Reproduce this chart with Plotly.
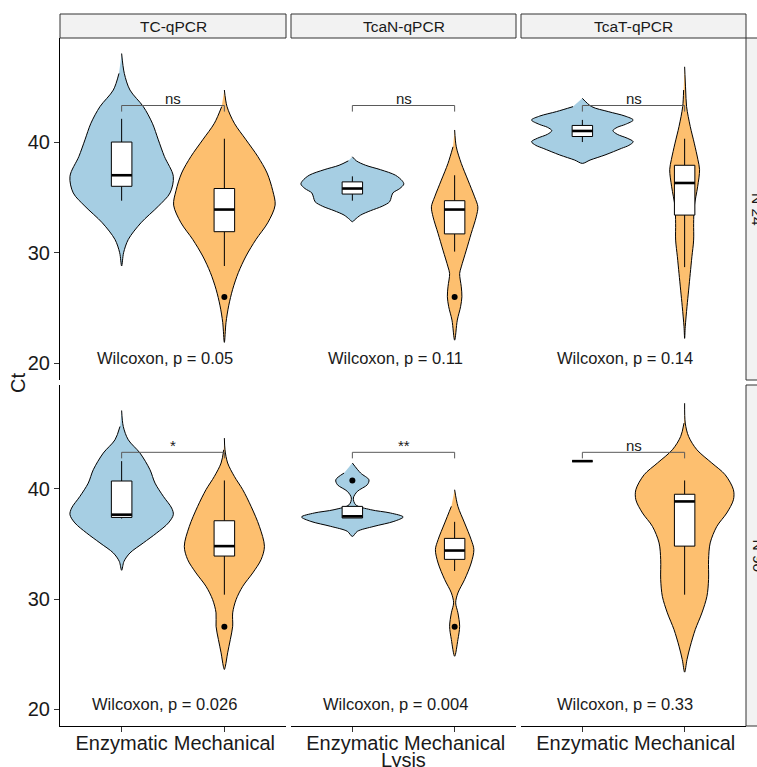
import plotly.graph_objects as go

# ---------------- data ----------------
ASSAYS = ["TC-qPCR", "TcaN-qPCR", "TcaT-qPCR"]
GROUPS = ["Enzymatic", "Mechanical"]
ROW_LABELS = ["N 24", "N 90"]
Y_TICKS = [20, 30, 40]

P_TEXT_N24 = ["Wilcoxon, p = 0.05", "Wilcoxon, p = 0.11", "Wilcoxon, p = 0.14"]
P_TEXT_N90 = ["Wilcoxon, p = 0.026", "Wilcoxon, p = 0.004", "Wilcoxon, p = 0.33"]
SIG_N24 = ["ns", "ns", "ns"]
SIG_N90 = ["*", "**", "ns"]

# violin outlines: Ct level and density half-width (in category units)
TC_N24_ENZ_CT = [48.0, 46.2, 44.7, 43.2, 41.7, 40.2, 38.7, 36.9, 35.4, 34.2, 32.7, 31.2, 30.0, 28.8]
TC_N24_ENZ_HW = [0, .026, .081, .211, .299, .357, .416, .503, .471, .357, .188, .065, .019, 0]
TC_N24_MEC_CT = [44.7, 43.2, 41.7, 40.2, 38.7, 37.2, 35.6, 34.3, 32.7, 31.2, 29.7, 28.2, 26.7, 25.2, 23.7, 21.9]
TC_N24_MEC_HW = [0, .026, .097, .211, .325, .416, .471, .494, .422, .308, .211, .136, .081, .042, .016, 0]

TCAN_N24_ENZ_CT = [38.67, 38.3, 37.9, 37.5, 37.0, 36.5, 36.2, 35.8, 35.4, 35.0, 34.6, 34.2, 33.8, 33.4, 33.0, 32.8]
TCAN_N24_ENZ_HW = [0, .039, .130, .276, .422, .487, .503, .464, .396, .380, .364, .292, .179, .081, .026, 0]
TCAN_N24_MEC_CT = [41.09, 39.57, 38.07, 36.56, 35.05, 34.15, 33.24, 31.74, 30.23, 28.72, 28.12, 26.92, 26.02, 25.12, 23.91, 22.1]
TCAN_N24_MEC_HW = [0, .016, .065, .130, .195, .227, .211, .162, .114, .065, .049, .065, .071, .058, .026, 0]

TCAT_N24_ENZ_CT = [43.95, 43.2, 42.75, 42.35, 41.99, 41.6, 41.33, 41.03, 40.7, 40.35, 40.03, 39.7, 39.43, 38.83, 38.37, 38.07]
TCAT_N24_ENZ_HW = [0, .091, .253, .416, .497, .422, .341, .299, .341, .438, .497, .455, .383, .221, .075, 0]
TCAT_N24_MEC_CT = [46.8, 44.7, 43.2, 41.4, 39.9, 38.4, 37.5, 35.96, 34.15, 32.65, 31.14, 29.64, 28.13, 26.62, 25.12, 23.31, 22.26]
TCAT_N24_MEC_HW = [0, .010, .019, .055, .094, .130, .146, .127, .094, .088, .088, .071, .055, .039, .023, .006, 0]

TC_N90_ENZ_CT = [47.09, 45.64, 44.43, 43.23, 41.72, 40.51, 39.31, 38.25, 37.65, 36.9, 35.99, 35.09, 34.18, 33.42, 32.61]
TC_N90_ENZ_HW = [0, .016, .065, .179, .276, .325, .406, .487, .503, .455, .341, .211, .081, .023, 0]
TC_N90_MEC_CT = [44.59, 43.53, 42.33, 41.12, 39.91, 38.4, 36.59, 34.78, 33.57, 32.37, 31.16, 29.95, 28.75, 27.54, 26.33, 25.13, 23.92, 23.62]
TC_N90_MEC_HW = [0, .006, .032, .097, .179, .260, .341, .390, .357, .276, .179, .114, .081, .081, .058, .032, .010, 0]

TCAN_N90_ENZ_CT = [42.33, 41.42, 40.81, 40.36, 39.76, 39.16, 38.55, 38.1, 37.8, 37.44, 37.04, 36.59, 36.14, 35.68]
TCAN_N90_ENZ_HW = [0, .081, .162, .146, .049, .010, .032, .179, .373, .497, .406, .211, .049, 0]
TCAN_N90_MEC_CT = [39.91, 38.4, 36.9, 35.38, 34.48, 33.27, 31.76, 30.56, 29.66, 28.75, 27.54, 26.33, 24.82]
TCAN_N90_MEC_HW = [0, .032, .097, .162, .188, .162, .097, .032, .010, .032, .049, .032, 0]

TCAT_N90_ENZ_CT = []  # all values identical: no density drawn
TCAT_N90_ENZ_HW = []
TCAT_N90_MEC_CT = [47.75, 45.95, 44.73, 43.53, 42.33, 41.27, 39.91, 39.0, 37.8, 36.59, 35.09, 33.57, 31.76, 30.25, 28.75, 27.24, 25.73, 24.52, 23.38]
TCAT_N90_MEC_HW = [0, .006, .039, .120, .266, .396, .477, .477, .412, .315, .250, .234, .234, .218, .169, .104, .055, .023, 0]

# box statistics: [lower whisker, Q1, median, Q3, upper whisker]
BOX_N24_ENZ = [[34.7, 36.0, 37.0, 40.0, 42.1], [34.7, 35.3, 35.8, 36.4, 36.9], [40.0, 40.5, 41.0, 41.5, 42.0]]
BOX_N24_MEC = [[28.8, 31.9, 33.9, 35.8, 40.3], [30.1, 31.7, 33.9, 34.7, 37.0], [28.7, 33.4, 36.3, 37.9, 40.3]]
BOX_N90_ENZ = [[37.3, 37.4, 37.65, 40.7, 42.5], [37.35, 37.35, 37.5, 38.4, 38.4], [42.5, 42.5, 42.5, 42.5, 42.5]]
BOX_N90_MEC = [[30.4, 33.9, 34.8, 37.1, 40.75], [32.55, 33.6, 34.4, 35.5, 37.0], [30.4, 34.8, 38.85, 39.5, 40.75]]

# outlying points
OUT_N24_ENZ = [[], [], []]
OUT_N24_MEC = [[26.0], [26.0], []]
OUT_N90_ENZ = [[], [40.75], []]
OUT_N90_MEC = [[27.5], [27.5], []]

# significance bracket height and label positions
BRACKET_Y = 43.3
BRACKET_TICK = 42.75
SIG_Y = 43.95
P_LABEL_X = 1.42
P_LABEL_Y = 20.5

# ---------------- assembly ----------------
VIOLINS = [
    [[(TC_N24_ENZ_CT, TC_N24_ENZ_HW), (TC_N24_MEC_CT, TC_N24_MEC_HW)],
     [(TCAN_N24_ENZ_CT, TCAN_N24_ENZ_HW), (TCAN_N24_MEC_CT, TCAN_N24_MEC_HW)],
     [(TCAT_N24_ENZ_CT, TCAT_N24_ENZ_HW), (TCAT_N24_MEC_CT, TCAT_N24_MEC_HW)]],
    [[(TC_N90_ENZ_CT, TC_N90_ENZ_HW), (TC_N90_MEC_CT, TC_N90_MEC_HW)],
     [(TCAN_N90_ENZ_CT, TCAN_N90_ENZ_HW), (TCAN_N90_MEC_CT, TCAN_N90_MEC_HW)],
     [(TCAT_N90_ENZ_CT, TCAT_N90_ENZ_HW), (TCAT_N90_MEC_CT, TCAT_N90_MEC_HW)]],
]
BOXES = [[BOX_N24_ENZ, BOX_N24_MEC], [BOX_N90_ENZ, BOX_N90_MEC]]
OUTLIERS = [[OUT_N24_ENZ, OUT_N24_MEC], [OUT_N90_ENZ, OUT_N90_MEC]]
P_TEXT = [P_TEXT_N24, P_TEXT_N90]
SIG = [SIG_N24, SIG_N90]

FILLS = ["#A6CEE3", "#FDBF6F"]
FONT = "Liberation Sans, Arial, sans-serif"
INK = "#1a1a1a"
W, H = 757, 767
COL_PX = [(60, 286), (291, 516), (521, 746)]
ROW_PX = [(38, 380), (385, 726)]
STRIP_TOP = 14
BOX_HALF = 0.1
X_RANGE = [0.4, 2.6]
Y_RANGE = [18.5, 49.4]


def px_x(v):
    return v / W


def px_y(v):
    return 1 - v / H


def paper_text(x, y, text, size, angle=0):
    return dict(x=px_x(x), y=px_y(y), xref="paper", yref="paper", text=text,
                xanchor="center", yanchor="middle", textangle=angle,
                showarrow=False, font=dict(size=size, color=INK))


fig = go.Figure()
layout = dict(width=W, height=H, margin=dict(l=0, r=0, t=0, b=0),
              plot_bgcolor="white", paper_bgcolor="white", showlegend=False,
              font=dict(family=FONT, color=INK))
annotations = []
shapes = []

for r in range(2):
    for c in range(3):
        idx = r * 3 + c + 1
        sfx = "" if idx == 1 else str(idx)
        xa, ya = "x" + sfx, "y" + sfx
        layout["xaxis" + sfx] = dict(
            domain=[px_x(COL_PX[c][0]), px_x(COL_PX[c][1])], range=X_RANGE,
            anchor=ya, showgrid=False, zeroline=False,
            tickvals=[1, 2], ticktext=GROUPS,
            showline=(r == 1), linecolor="black", linewidth=1,
            ticks="outside" if r == 1 else "", ticklen=5, tickcolor="#333", tickwidth=1,
            ticklabelstandoff=-6,
            showticklabels=(r == 1), tickfont=dict(size=20, color=INK))
        layout["yaxis" + sfx] = dict(
            domain=[px_y(ROW_PX[r][1]), px_y(ROW_PX[r][0])], range=Y_RANGE,
            anchor=xa, showgrid=False, zeroline=False, tickvals=Y_TICKS,
            showline=(c == 0), linecolor="black", linewidth=1,
            ticks="outside" if c == 0 else "", ticklen=5, tickcolor="#333", tickwidth=1,
            showticklabels=(c == 0), tickfont=dict(size=20, color=INK))

        for g in range(2):
            center = g + 1
            ct, hw = VIOLINS[r][c][g]
            if ct:
                xs = [center + h for h in hw] + [center - h for h in hw[::-1][1:-1]]
                ys = list(ct) + list(ct[::-1][1:-1])
                fig.add_trace(go.Scatter(
                    x=xs, y=ys, xaxis=xa, yaxis=ya, mode="lines", fill="toself",
                    fillcolor=FILLS[g], hoverinfo="skip",
                    line=dict(color="black", width=1, shape="spline", smoothing=0.9)))

            lo, q1, med, q3, hi = BOXES[r][g][c]
            left, right = center - BOX_HALF, center + BOX_HALF
            # whiskers
            for a, b in ((lo, q1), (q3, hi)):
                if b != a:
                    fig.add_trace(go.Scatter(
                        x=[center, center], y=[a, b], xaxis=xa, yaxis=ya, mode="lines",
                        line=dict(color="black", width=1), hoverinfo="skip"))
            # box body
            fig.add_trace(go.Scatter(
                x=[left, right, right, left, left], y=[q1, q1, q3, q3, q1],
                xaxis=xa, yaxis=ya, mode="lines", fill="toself", fillcolor="white",
                line=dict(color="black", width=1), hoverinfo="skip"))
            # median
            fig.add_trace(go.Scatter(
                x=[left, right], y=[med, med], xaxis=xa, yaxis=ya,
                mode="lines", line=dict(color="black", width=2.6), hoverinfo="skip"))
            outs = OUTLIERS[r][g][c]
            if outs:
                fig.add_trace(go.Scatter(
                    x=[center] * len(outs), y=outs, xaxis=xa, yaxis=ya, mode="markers",
                    marker=dict(color="black", size=6), hoverinfo="skip"))

        # comparison bracket
        fig.add_trace(go.Scatter(
            x=[1, 1, 2, 2], y=[BRACKET_TICK, BRACKET_Y, BRACKET_Y, BRACKET_TICK],
            xaxis=xa, yaxis=ya, mode="lines", line=dict(color="#5a5a5a", width=1),
            hoverinfo="skip"))
        annotations.append(dict(x=1.5, y=SIG_Y, xref=xa, yref=ya, text=SIG[r][c],
                                xanchor="center", yanchor="middle",
                                showarrow=False, font=dict(size=15, color=INK)))
        annotations.append(dict(x=P_LABEL_X, y=P_LABEL_Y, xref=xa, yref=ya, text=P_TEXT[r][c],
                                xanchor="center", yanchor="middle",
                                showarrow=False, font=dict(size=16.5, color=INK)))

# column strips
for c in range(3):
    shapes.append(dict(type="rect", xref="paper", yref="paper",
                       x0=px_x(COL_PX[c][0]), x1=px_x(COL_PX[c][1]),
                       y0=px_y(ROW_PX[0][0]), y1=px_y(STRIP_TOP),
                       fillcolor="#F2F2F2", line=dict(color="#333", width=1), layer="below"))
    annotations.append(paper_text((COL_PX[c][0] + COL_PX[c][1]) / 2,
                                  (STRIP_TOP + ROW_PX[0][0]) / 2, ASSAYS[c], 15.5))

# row strips on the right
for r in range(2):
    shapes.append(dict(type="rect", xref="paper", yref="paper",
                       x0=px_x(COL_PX[2][1]), x1=px_x(COL_PX[2][1] + 24),
                       y0=px_y(ROW_PX[r][1]), y1=px_y(ROW_PX[r][0]),
                       fillcolor="#F2F2F2", line=dict(color="#333", width=1), layer="below"))
    annotations.append(paper_text(COL_PX[2][1] + 12, (ROW_PX[r][0] + ROW_PX[r][1]) / 2,
                                  ROW_LABELS[r], 15.5, angle=90))

# axis titles
annotations.append(paper_text(18, 383, "Ct", 20, angle=-90))
annotations.append(paper_text(403, 760, "Lysis", 20))

layout["annotations"] = annotations
layout["shapes"] = shapes
fig.update_layout(**layout)
fig.write_html("out.html")
